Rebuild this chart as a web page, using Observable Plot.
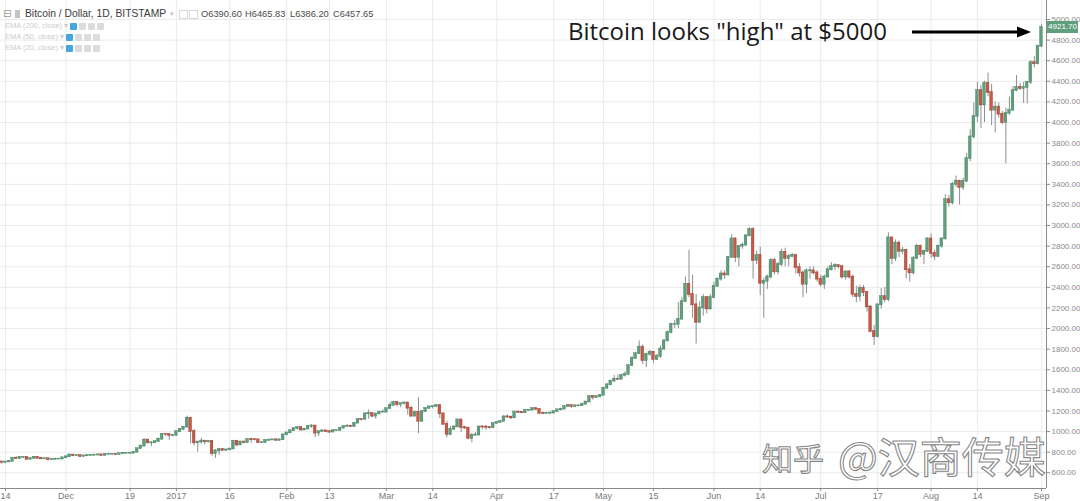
<!DOCTYPE html>
<html><head><meta charset="utf-8">
<script src="https://cdn.jsdelivr.net/npm/d3@7"></script>
<script src="https://cdn.jsdelivr.net/npm/@observablehq/plot@0.6"></script>
<style>
body{margin:0;background:#fff;}
#wrap{position:relative;width:1080px;height:501px;overflow:hidden;font-family:"Liberation Sans",Arial,sans-serif;}
#wrap svg{display:block;}
.abs{position:absolute;white-space:nowrap;}
.t1{font-size:11px;color:#3a3a3a;top:8px;}
.ema{font-size:7.5px;color:#cdcdcd;left:5px;}
.btn{position:absolute;width:7px;height:7px;border-radius:1px;}
</style></head><body><div id="wrap"></div><script>
// ---- data (Bitstamp BTC/USD daily, [open, high, low, close]) ----
const startDate = "2016-11-12";
const nov16 = [[715,716,703,705],[705,706,685,702],[702,708,695,705],[705,716,703,711],[711,748,710,741],[741,755,733,737],[737,755,732,751],[751,754,738,751],[751,755,722,731],[731,740,728,739],[739,755,735,751],[751,752,735,741],[741,743,728,735],[735,739,730,736],[736,737,718,727],[727,734,722,730],[730,737,728,733],[733,737,728,733],[733,746,731,745]];
const dec16 = [[745,757,744,755],[755,782,754,772],[772,774,755,765],[765,770,761,768],[768,769,748,758],[758,765,755,764],[764,769,759,768],[768,772,763,770],[770,774,767,772],[772,777,770,774],[774,774,762,768],[768,781,767,779],[779,789,775,780],[780,782,773,780],[780,782,772,777],[777,786,776,785],[785,792,783,790],[790,793,785,790],[790,795,786,790],[790,800,788,799],[799,836,798,834],[834,870,830,859],[859,930,855,918],[918,920,880,890],[890,897,855,891],[891,907,888,902],[902,938,895,926],[926,976,922,973],[973,977,955,972],[972,972,915,961],[961,966,948,963]];
const jan17 = [[963,1001,958,998],[998,1030,990,1021],[1021,1044,1015,1043],[1043,1150,1041,1130],[1130,1139,880,1000],[1000,1020,860,890],[890,905,800,898],[898,935,880,908],[908,910,870,900],[900,910,890,905],[905,915,760,785],[785,825,740,812],[812,832,770,826],[826,836,805,818],[818,828,810,822],[822,833,818,831],[831,910,828,907],[907,912,850,870],[870,905,868,899],[899,903,880,893],[893,925,891,922],[922,935,885,921],[921,926,910,920],[920,923,885,892],[892,900,885,893],[893,918,891,915],[915,921,905,918],[918,923,913,920],[920,921,910,914],[914,923,912,920],[920,970,919,968]];
const feb17 = [[968,990,960,987],[987,1011,982,1008],[1008,1033,1006,1029],[1029,1045,1015,1040],[1040,1041,1005,1015],[1015,1027,1012,1024],[1024,1055,1020,1051],[1051,1070,1030,1054],[1054,1057,940,985],[985,1003,950,1000],[1000,1012,995,1007],[1007,1008,993,999],[999,1008,979,995],[995,1012,990,1009],[1009,1013,1003,1010],[1010,1040,1008,1033],[1033,1055,1032,1049],[1049,1065,1047,1053],[1053,1057,1040,1048],[1048,1085,1045,1081],[1081,1124,1080,1118],[1118,1125,1102,1117],[1117,1175,1116,1172],[1172,1210,1120,1176],[1176,1176,1133,1150],[1150,1172,1120,1171],[1171,1195,1170,1189],[1189,1210,1180,1189]];
const mar17 = [[1189,1225,1188,1222],[1222,1280,1220,1253],[1253,1295,1250,1283],[1283,1285,1240,1261],[1261,1275,1232,1272],[1272,1280,1260,1278],[1278,1280,1160,1227],[1227,1245,1140,1150],[1150,1200,1140,1187],[1187,1330,980,1100],[1100,1200,1090,1193],[1193,1230,1185,1225],[1225,1245,1215,1240],[1240,1250,1220,1243],[1243,1257,1237,1253],[1253,1260,1125,1172],[1172,1175,1060,1071],[1071,1100,940,971],[971,1050,960,1022],[1022,1055,1015,1045],[1045,1120,1040,1113],[1113,1115,990,1038],[1038,1050,1020,1034],[1034,1040,920,934],[934,980,890,965],[965,990,955,966],[966,1048,962,1045],[1045,1055,1020,1044],[1044,1058,1010,1040],[1040,1048,1022,1037],[1037,1080,1032,1079]];
const apr17 = [[1079,1098,1075,1089],[1089,1105,1085,1098],[1098,1150,1096,1143],[1143,1160,1126,1141],[1141,1145,1115,1133],[1133,1195,1132,1190],[1190,1195,1175,1187],[1187,1195,1175,1182],[1182,1210,1178,1205],[1205,1212,1198,1208],[1208,1228,1205,1224],[1224,1228,1208,1216],[1216,1216,1165,1177],[1177,1187,1165,1176],[1176,1188,1170,1176],[1176,1187,1172,1180],[1180,1197,1172,1193],[1193,1215,1191,1211],[1211,1225,1200,1218],[1218,1250,1215,1243],[1243,1262,1235,1252],[1252,1255,1225,1242],[1242,1255,1238,1250],[1250,1255,1240,1250],[1250,1270,1245,1266],[1266,1295,1260,1287],[1287,1345,1285,1341],[1341,1346,1305,1330],[1330,1345,1320,1339],[1339,1355,1325,1351]];
const may17 = [[1351,1430,1350,1421],[1421,1460,1410,1454],[1454,1495,1445,1490],[1490,1545,1480,1508],[1508,1550,1500,1507],[1507,1555,1505,1545],[1545,1580,1530,1555],[1555,1645,1550,1640],[1640,1730,1630,1710],[1710,1770,1700,1755],[1755,1880,1750,1820],[1820,1840,1650,1688],[1688,1760,1620,1750],[1750,1790,1730,1770],[1770,1775,1660,1700],[1700,1750,1690,1730],[1730,1830,1710,1800],[1800,1890,1790,1880],[1880,1980,1870,1960],[1960,2050,1950,2040],[2040,2080,2000,2040],[2040,2250,2000,2090],[2090,2300,2085,2260],[2260,2500,2255,2430],[2430,2760,2300,2330],[2330,2520,2100,2230],[2230,2330,1850,2060],[2060,2260,2050,2200],[2200,2330,2120,2300],[2300,2310,2140,2190],[2190,2330,2180,2300]];
const jun17 = [[2300,2450,2290,2410],[2410,2490,2400,2480],[2480,2560,2460,2530],[2530,2560,2480,2520],[2520,2700,2510,2690],[2690,2910,2680,2870],[2870,2880,2640,2690],[2690,2800,2600,2800],[2800,2830,2770,2810],[2810,2910,2800,2900],[2900,2980,2890,2960],[2960,2980,2480,2660],[2660,2750,2620,2710],[2710,2790,2320,2440],[2440,2490,2100,2460],[2460,2520,2380,2500],[2500,2680,2480,2660],[2660,2680,2520,2550],[2550,2640,2520,2620],[2620,2770,2600,2740],[2740,2780,2600,2680],[2680,2720,2600,2700],[2700,2730,2690,2710],[2710,2720,2530,2590],[2590,2630,2500,2540],[2540,2560,2300,2430],[2430,2580,2340,2560],[2560,2600,2480,2560],[2560,2600,2520,2540],[2540,2560,2450,2480]];
const jul17 = [[2480,2520,2400,2430],[2430,2520,2380,2500],[2500,2600,2490,2570],[2570,2640,2560,2600],[2600,2630,2560,2610],[2610,2620,2580,2600],[2600,2610,2480,2500],[2500,2560,2470,2550],[2550,2560,2480,2500],[2500,2520,2300,2330],[2330,2410,2250,2310],[2310,2420,2260,2390],[2390,2420,2310,2350],[2350,2360,2160,2210],[2210,2220,1960,1970],[1970,2030,1835,1920],[1920,2240,1910,2230],[2230,2390,2190,2310],[2310,2400,2250,2280],[2280,2930,2260,2880],[2880,2890,2620,2680],[2680,2860,2650,2830],[2830,2850,2690,2750],[2750,2790,2720,2760],[2760,2770,2480,2570],[2570,2620,2450,2540],[2540,2700,2520,2680],[2680,2820,2670,2800],[2800,2810,2690,2720],[2720,2760,2620,2750],[2750,2880,2740,2870]];
const aug17 = [[2870,2920,2680,2730],[2730,2760,2660,2700],[2700,2810,2690,2800],[2800,2880,2780,2870],[2870,3300,2860,3250],[3250,3290,3180,3220],[3220,3420,3200,3400],[3400,3480,3370,3430],[3430,3440,3200,3370],[3370,3460,3340,3430],[3430,3700,3420,3650],[3650,3930,3620,3860],[3860,4190,3840,4060],[4060,4390,4000,4310],[4310,4360,3940,4170],[4170,4400,4000,4380],[4380,4480,4250,4290],[4290,4370,3970,4120],[4120,4200,3900,4150],[4150,4190,4040,4080],[4080,4110,3980,4000],[4000,4140,3600,4090],[4090,4250,4070,4120],[4120,4350,4110,4310],[4310,4456,4300,4340],[4340,4380,4310,4330],[4330,4390,4185,4340],[4340,4400,4180,4390],[4390,4600,4370,4580],[4580,4640,4530,4570],[4570,4750,4560,4740]];
const sep17 = [[4740,4950,4730,4921.7]];

const tickDates = ["2016-11-14","2016-12-01","2016-12-19","2017-01-01","2017-01-16","2017-02-01","2017-02-13","2017-03-01","2017-03-14","2017-04-01","2017-04-17","2017-05-01","2017-05-15","2017-06-01","2017-06-14","2017-07-01","2017-07-17","2017-08-01","2017-08-14","2017-09-01"];
const tickLabels = ["14","Dec","19","2017","16","Feb","13","Mar","14","Apr","17","May","15","Jun","14","Jul","17","Aug","14","Sep"];
const priceTicks = [600,800,1000,1200,1400,1600,1800,2000,2200,2400,2600,2800,3000,3200,3400,3600,3800,4000,4200,4400,4600,4800,5000];

const legendTitle = "Bitcoin / Dollar, 1D, BITSTAMP";
const legendOHLC = ["O6390.60","H6465.83","L6386.20","C6457.65"];
const emaLabels = ["EMA (200, close)","EMA (50, close)","EMA (20, close)"];
const annotation = "Bitcoin looks \"high\" at $5000";
const watermarkA = "知乎";
const watermarkB = "@汉商传媒";

// ---- build ----
const start = new Date(startDate + "T00:00:00Z");
const candles = [nov16,dec16,jan17,feb17,mar17,apr17,may17,jun17,jul17,aug17,sep17].flat()
  .map((v,i)=>({date:d3.utcDay.offset(start,i),open:v[0],high:v[1],low:v[2],close:v[3]}));
const ticks = tickDates.map(s=>new Date(s+"T00:00:00Z"));
const labelOf = new Map(ticks.map((d,i)=>[+d,tickLabels[i]]));

const DAY = 864e5, PX = 3.56;
const xDomain = [new Date(+ticks[0] - 5/PX*DAY), new Date(+ticks[0] - 5/PX*DAY + 1046/PX*DAY)];
const yDomain = [447.4, 5184.5];
const UP = "#5f9f7e", DOWN = "#c95a47";

const chart = Plot.plot({
  width: 1080, height: 501,
  marginLeft: 0, marginRight: 34, marginTop: 0, marginBottom: 13,
  style: {fontFamily: "'Liberation Sans', Arial, sans-serif", background: "#fff", overflow: "visible"},
  x: {type: "utc", domain: xDomain, axis: null},
  y: {type: "linear", domain: yDomain, axis: null},
  marks: [
    Plot.gridX(ticks, {stroke: "#ebebeb", strokeOpacity: 1}),
    Plot.gridY(priceTicks, {stroke: "#ebebeb", strokeOpacity: 1}),
    Plot.ruleX(candles, {x: "date", y1: "low", y2: "high", stroke: "#8e8e8e", strokeWidth: 1, clip: true}),
    Plot.rect(candles, {
      x1: d => d3.utcHour.offset(d.date, -9), x2: d => d3.utcHour.offset(d.date, 9),
      y1: "open", y2: "close",
      fill: d => d.close >= d.open ? UP : DOWN,
      stroke: d => d.close >= d.open ? "#3e7a5b" : "#8c3426", strokeWidth: 0.4,
      insetTop: -0.5, insetBottom: -0.5, clip: true
    }),
    Plot.ruleY([yDomain[0]], {stroke: "#8a8a8a"}),
    Plot.ruleX([xDomain[1]], {stroke: "#8a8a8a"}),
    Plot.axisX(ticks, {tickSize: 3, tickPadding: 1, tickFormat: d => labelOf.get(+d), fontSize: 9, color: "#7a7a7a", stroke: "#8a8a8a"}),
    Plot.axisY(priceTicks, {anchor: "right", tickSize: 3, tickPadding: 2, tickFormat: d => d.toFixed(2), fontSize: 8, color: "#8a8a8a", stroke: "#8a8a8a"})
  ]
});

const wrap = document.getElementById("wrap");
wrap.appendChild(chart);

// legend
function add(html, cls, style){const e=document.createElement("div");e.className="abs "+cls;e.innerHTML=html;Object.assign(e.style,style);wrap.appendChild(e);return e;}
add("&#8863;", "t1", {left:"3px", color:"#9a9a9a", fontFamily:"DejaVu Sans", fontSize:"10px", top:"8px"});
add("", "", {left:"15px", top:"10px", width:"5px", height:"8px", background:"#c4c4c4"});
add(legendTitle, "t1", {left:"25px", fontSize:"10.3px", top:"8px"});
add("&#9662;", "t1", {left:"170px", color:"#c0c0c0", fontSize:"7px", top:"10px"});
add("", "", {left:"179px", top:"10px", width:"7px", height:"7px", border:"1px solid #d8d8d8"});
add("", "", {left:"189px", top:"10px", width:"7px", height:"7px", border:"1px solid #d8d8d8"});
const ohlcX = [201, 245, 290, 333];
legendOHLC.forEach((t,i)=>add(t, "t1", {left:ohlcX[i]+"px", color:"#4a4a4a", fontSize:"9.3px", top:"9px"}));
emaLabels.forEach((t,i)=>{
  const top = 21 + i*11;
  add(t+" &#9662;", "ema", {top: top+"px"});
  const bx = i===0 ? 70 : 66;
  add("", "btn", {left:bx+"px", top:(top+2)+"px", background:"#45a6e0"});
  for(let k=1;k<4;k++) add("", "btn", {left:(bx+k*9)+"px", top:(top+2)+"px", background:"#dcdcdc"});
});

// last price label
const yLast = chart.scale("y").apply(candles[candles.length-1].close);
add(candles[candles.length-1].close.toFixed(2), "", {left:"1047px", top:(yLast-6)+"px", width:"31px", height:"12px", background:"#5f9f7e", color:"#fff", fontSize:"8px", lineHeight:"12px", textAlign:"center"});

// annotation + watermark overlay
const ns = "http://www.w3.org/2000/svg";
const ov = document.createElementNS(ns,"svg");
ov.setAttribute("width",1080); ov.setAttribute("height",501);
ov.style.position="absolute"; ov.style.left="0"; ov.style.top="0";
ov.innerHTML = `
<text x="568" y="40" font-family="'Open Sans', sans-serif" font-size="24" fill="#1a1a1a"></text>
<line x1="912" y1="32" x2="1020" y2="32" stroke="#000" stroke-width="3"/>
<polygon points="1031,32 1017,26.5 1017,37.5" fill="#000"/>
<g font-family="'Noto Sans CJK SC', sans-serif" fill="#ffffff" fill-opacity="0.85" stroke="#6e6e6e" stroke-width="1.1" stroke-opacity="0.85">
<text class="wa" x="762" y="470" font-size="31"></text>
<text class="wb" x="838" y="473" font-size="42"></text>
</g>`;
ov.querySelector("text").textContent = annotation;
ov.querySelector(".wa").textContent = watermarkA;
ov.querySelector(".wb").textContent = watermarkB;
wrap.appendChild(ov);
</script></body></html>
